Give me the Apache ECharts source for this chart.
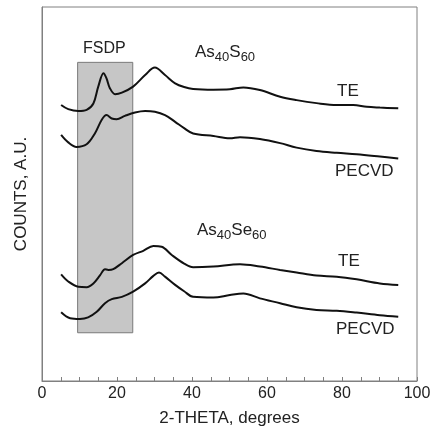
<!DOCTYPE html>
<html>
<head>
<meta charset="utf-8">
<script src="https://cdn.jsdelivr.net/npm/echarts@6/dist/echarts.min.js"></script>
<style>
  html, body { margin: 0; padding: 0; background: #fff; }
  #chart { width: 433px; height: 427px; }
</style>
</head>
<body>
<div id="chart"></div>
<script>
var xrdChart = echarts.init(document.getElementById('chart'));

// 2-theta positions and counts (arbitrary units, curves offset vertically)
var sTeX   = [5.1, 7.0, 9.7, 11.9, 13.7, 15.0, 16.4, 17.2, 18.1, 19.5, 21.3, 24.3, 27.5, 30.1, 32.8, 35.5, 37.9, 40.3, 45.7, 50.1, 53.7, 58.1, 63.5, 67.9, 73.2, 78.6, 83.0, 86.6, 90.1, 95.0];
var sTeY   = [73.8, 72.7, 72.2, 72.5, 74.2, 78.7, 82.3, 80.9, 78.3, 76.7, 77.1, 78.7, 81.8, 83.8, 81.8, 79.6, 78.6, 78.1, 77.9, 78.0, 78.5, 77.8, 76.0, 75.1, 74.3, 73.8, 73.8, 73.3, 73.1, 72.9];

var sPeX   = [5.1, 7.0, 9.2, 11.9, 14.1, 15.9, 17.2, 18.6, 19.9, 22.1, 24.8, 27.5, 30.1, 32.8, 35.5, 37.9, 40.3, 45.7, 50.1, 52.8, 58.1, 63.5, 67.9, 73.2, 78.6, 83.9, 90.1, 95.0];
var sPeY   = [65.8, 63.8, 62.6, 63.3, 66.2, 69.8, 71.1, 70.2, 70.0, 70.9, 71.8, 72.2, 72.0, 71.1, 69.3, 67.6, 66.2, 65.5, 64.9, 65.2, 64.7, 63.6, 62.4, 61.5, 61.0, 60.6, 60.0, 59.5];

var seTeX  = [5.1, 7.0, 9.7, 11.9, 13.7, 15.5, 16.8, 17.7, 19.0, 21.3, 24.3, 27.0, 29.7, 31.9, 34.6, 37.9, 40.3, 45.7, 52.8, 58.1, 63.5, 67.9, 73.2, 78.6, 83.9, 90.1, 95.0];
var seTeY  = [28.5, 26.6, 25.2, 25.1, 26.1, 28.3, 29.9, 29.7, 29.9, 31.5, 33.7, 34.8, 36.1, 35.9, 33.7, 31.4, 30.4, 30.6, 31.2, 30.6, 29.7, 29.0, 28.2, 27.9, 27.2, 26.1, 25.7];

var sePeX  = [5.1, 7.5, 10.1, 12.3, 14.6, 16.8, 18.6, 21.3, 24.3, 27.5, 29.7, 31.2, 32.8, 35.5, 37.9, 40.3, 45.7, 50.1, 53.7, 58.1, 63.5, 67.9, 73.2, 78.6, 83.9, 90.1, 95.0];
var sePeY  = [18.4, 16.8, 16.6, 17.0, 18.5, 20.8, 21.9, 22.5, 23.9, 26.1, 28.1, 29.0, 27.9, 25.7, 24.0, 22.5, 22.3, 23.0, 23.4, 22.1, 20.8, 19.7, 19.0, 18.8, 18.3, 17.6, 17.2];

// FSDP region
var fsdpX = [9.5, 24.2];
var fsdpY = [12.9, 85.2];

var xTicks = [0, 20, 40, 60, 80, 100];

function pairs(xs, ys) {
    return xs.map(function (x, i) { return [x, ys[i]]; });
}

function curve(xs, ys) {
    return {
        type: 'line',
        data: pairs(xs, ys),
        smooth: 0.35,
        symbol: 'none',
        z: 3,
        lineStyle: { color: '#111', width: 2 }
    };
}

var font = '"Liberation Sans", Arial, sans-serif';
var sub = { fontSize: 13, verticalAlign: 'bottom', padding: [9, 0, 0, 0], fontFamily: font, fill: '#222' };

option = {
    animation: false,
    textStyle: { fontFamily: font },
    grid: {
        left: 42, right: 16, top: 7, bottom: 46,
        outerBoundsMode: 'none',
        containLabel: false,
        show: true, borderColor: '#808080', borderWidth: 1
    },
    xAxis: {
        type: 'value',
        min: 0, max: 100, interval: 5,
        name: '2-THETA, degrees',
        nameLocation: 'middle',
        nameGap: 29,
        nameTextStyle: { fontSize: 17, color: '#222', fontFamily: font },
        axisLine: { lineStyle: { color: '#808080' } },
        axisTick: { inside: true, length: 4, lineStyle: { color: '#808080' } },
        axisLabel: {
            fontSize: 16, color: '#222', margin: 5, fontFamily: font,
            formatter: function (v) { return xTicks.indexOf(v) >= 0 ? String(v) : ''; }
        },
        splitLine: { show: false }
    },
    yAxis: {
        type: 'value',
        min: 0, max: 100,
        name: 'COUNTS, A.U.',
        nameLocation: 'middle',
        nameGap: 12,
        nameTextStyle: { fontSize: 17, color: '#222', fontFamily: font },
        axisLine: { show: true, lineStyle: { color: '#808080' } },
        axisTick: { show: false },
        axisLabel: { show: false },
        splitLine: { show: false }
    },
    series: [
        {
            type: 'line',
            data: [],
            z: 1,
            markArea: {
                silent: true,
                itemStyle: { color: '#c6c6c6', borderColor: '#7a7a7a', borderWidth: 1 },
                data: [[{ coord: [fsdpX[0], fsdpY[0]] }, { coord: [fsdpX[1], fsdpY[1]] }]]
            }
        },
        curve(sTeX, sTeY),
        curve(sPeX, sPeY),
        curve(seTeX, seTeY),
        curve(sePeX, sePeY)
    ],
    graphic: [
        { type: 'text', left: 83, top: 41, style: { text: 'FSDP', font: '16px ' + font, fill: '#222' } },
        { type: 'text', left: 195, top: 44, style: { text: 'As{s|40}S{s|60}', font: '17px ' + font, fill: '#222', rich: { s: sub } } },
        { type: 'text', left: 337, top: 83, style: { text: 'TE', font: '17px ' + font, fill: '#222' } },
        { type: 'text', left: 335, top: 163, style: { text: 'PECVD', font: '17px ' + font, fill: '#222' } },
        { type: 'text', left: 197, top: 222, style: { text: 'As{s|40}Se{s|60}', font: '17px ' + font, fill: '#222', rich: { s: sub } } },
        { type: 'text', left: 338, top: 253, style: { text: 'TE', font: '17px ' + font, fill: '#222' } },
        { type: 'text', left: 336, top: 321, style: { text: 'PECVD', font: '17px ' + font, fill: '#222' } }
    ]
};
xrdChart.setOption(option);
</script>
</body>
</html>
